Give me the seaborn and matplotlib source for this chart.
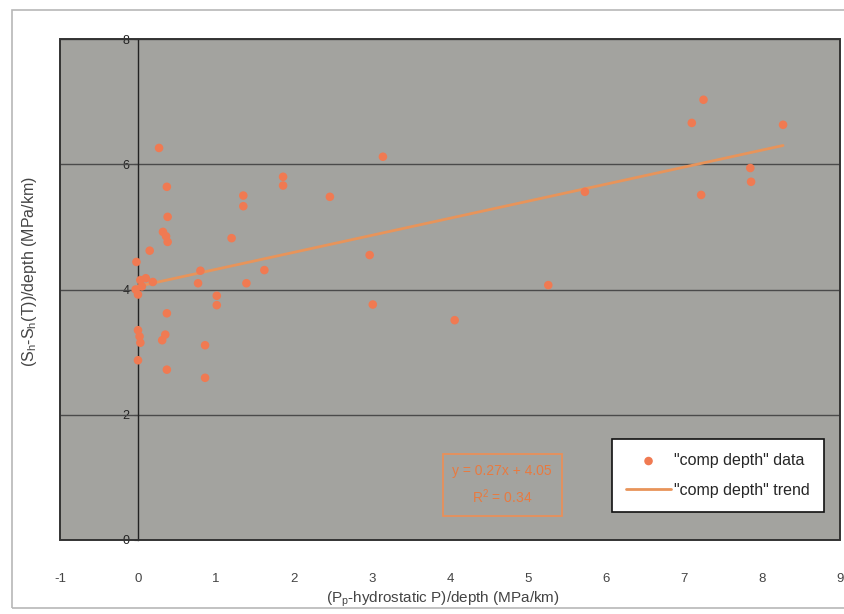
import numpy as np
import pandas as pd
import matplotlib
matplotlib.use("Agg")
import matplotlib.pyplot as plt
from matplotlib.patches import Rectangle
from matplotlib.ticker import FuncFormatter
import seaborn as sns

# values
x_vals = [0.27, 0.37, 0.38, 0.32, 0.38, 0.36, 0.15, -0.02, 1.35, 1.35,
          1.86, 1.86, 2.46, 3.14, 1.20, 1.62, 1.39, 2.97, 3.01, 4.06,
          5.26, 5.73, 7.10, 7.25, 7.22, 7.85, 7.86, 8.27, 0.03, 0.19,
          0.10, -0.03, 0.00, 0.05, 0.80, 0.77, 1.01, 1.01, 0.37, 0.00,
          0.02, 0.03, 0.31, 0.35, 0.86, 0.00, 0.37, 0.86]
y_vals = [6.26, 5.64, 5.16, 4.92, 4.76, 4.85, 4.62, 4.44, 5.50, 5.33,
          5.80, 5.66, 5.48, 6.12, 4.82, 4.31, 4.10, 4.55, 3.76, 3.51,
          4.07, 5.56, 6.66, 7.03, 5.51, 5.94, 5.72, 6.63, 4.15, 4.12,
          4.18, 4.00, 3.92, 4.05, 4.30, 4.10, 3.90, 3.75, 3.62, 3.35,
          3.25, 3.15, 3.19, 3.28, 3.11, 2.87, 2.72, 2.59]

trend_slope = 0.272
trend_intercept = 4.05
trend_x = [0.0, 8.27]
eq_text = "y = 0.27x + 4.05\nR$^2$ = 0.34"

x_ticks = [-1, 0, 1, 2, 3, 4, 5, 6, 7, 8, 9]
y_ticks = [0, 2, 4, 6, 8]

df = pd.DataFrame({"x": x_vals, "y": y_vals})
trend_df = pd.DataFrame({"x": trend_x,
                         "y": [trend_slope * v + trend_intercept for v in trend_x]})

sns.set_theme(style="white")
plt.rcParams["font.family"] = ["Liberation Sans", "DejaVu Sans"]
plt.rcParams["mathtext.default"] = "regular"

fig = plt.figure(figsize=(8.44, 6.14), dpi=100)
fig.patch.set_facecolor("white")
# outer chart frame
fig.add_artist(Rectangle((12 / 844, 6 / 614), 840 / 844, 598 / 614,
                         transform=fig.transFigure, fill=False,
                         edgecolor="#b8b8b8", linewidth=1.2))

ax = fig.add_axes([60 / 844, 1 - 540 / 614, 780 / 844, 501 / 614])
ax.set_facecolor("#a3a39f")

for gy in y_ticks:
    ax.axhline(gy, color="#4a4a4a", linewidth=1.0, zorder=1)

sns.lineplot(data=trend_df, x="x", y="y", ax=ax, color="#e8945a",
             linewidth=2.0, label='"comp depth" trend', zorder=3)
sns.scatterplot(data=df, x="x", y="y", ax=ax, color="#f07a52",
                s=38, edgecolor="none", label='"comp depth" data', zorder=4)

ax.set_xlim(-1, 9)
ax.set_ylim(0, 8)
ax.set_xticks(x_ticks)
ax.set_yticks(y_ticks)
ax.xaxis.set_major_formatter(FuncFormatter(lambda v, p: f"{int(v)}"))
ax.set_xlabel("")
ax.set_ylabel("")

# y axis crosses at x = 0, like the Excel original
ax.spines["left"].set_position(("data", 0))
ax.spines["left"].set_color("#222222")
ax.spines["left"].set_linewidth(1.0)
ax.spines["left"].set_zorder(2)
for s in ["top", "right", "bottom"]:
    ax.spines[s].set_visible(False)
ax.add_patch(Rectangle((0, 0), 1, 1, transform=ax.transAxes, fill=False,
                       edgecolor="#333333", linewidth=1.4, zorder=5, clip_on=False))

ax.tick_params(axis="y", labelsize=9, colors="#222222", length=3, pad=3,
               left=True, direction="out", width=0.8)
ax.tick_params(axis="x", labelsize=9.5, colors="#444444", length=0, pad=24)

# equation box
ax.text(4.67, 0.88, eq_text, color="#e87a40", fontsize=10, ha="center",
        va="center", linespacing=1.6,
        bbox=dict(boxstyle="square,pad=0.7", facecolor="none",
                  edgecolor="#e8905a", linewidth=1.3), zorder=4)

handles, labels = ax.get_legend_handles_labels()
order = [labels.index('"comp depth" data'), labels.index('"comp depth" trend')]
leg = ax.legend([handles[i] for i in order], [labels[i] for i in order],
                loc="lower right", bbox_to_anchor=(0.99, 0.04),
                fontsize=11.5, frameon=True, fancybox=False,
                edgecolor="#111111", facecolor="white", framealpha=1,
                borderpad=0.9, labelspacing=0.9, handlelength=2.8,
                handletextpad=0.2)
leg.get_frame().set_linewidth(1.2)
leg.set_zorder(6)

fig.text(443 / 844, 1 - 599 / 614, "(P$_p$-hydrostatic P)/depth (MPa/km)",
         ha="center", va="center", fontsize=11, color="#444444")
fig.text(30 / 844, 1 - 272 / 614, "(S$_h$-S$_h$(T))/depth (MPa/km)",
         ha="center", va="center", rotation=90, fontsize=11.5, color="#444444")

fig.savefig("out.png", dpi=100, facecolor="white")
